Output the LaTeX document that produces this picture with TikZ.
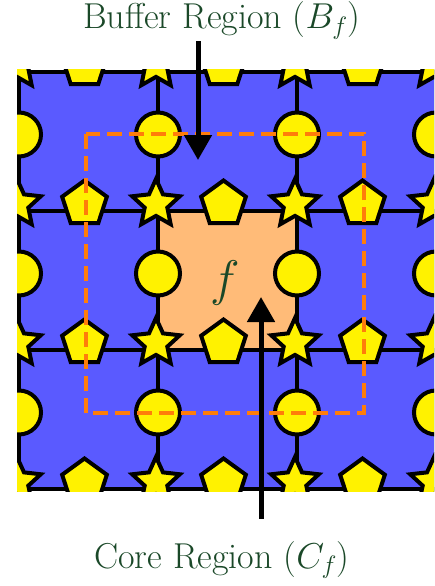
\RequirePackage{fix-cm}
\documentclass[tikz,border=0pt]{standalone}
\usetikzlibrary{arrows.meta,shapes.geometric}

\definecolor{faceblue}{RGB}{90,90,255}
\definecolor{coreorange}{RGB}{255,187,120}
\definecolor{dashorange}{RGB}{255,125,10}
\definecolor{labelgreen}{RGB}{26,72,40}

\tikzset{
  gridline/.style={line width=3.5pt},
  sym/.style={draw, fill=yellow, line width=4pt, inner sep=0pt, outer sep=0pt},
  circ/.style={sym, circle, minimum size=44pt},
  pent/.style={sym, regular polygon, regular polygon sides=5, minimum size=47pt},
  starsym/.style={sym, star, star points=5, star point ratio=2.1, minimum size=50pt},
  buffer/.style={draw=dashorange, line width=4pt, dash pattern=on 15pt off 7pt},
  ptr/.style={line width=5pt, -{Triangle[length=25pt,width=27pt]}},
  lbl/.style={text=labelgreen, inner sep=2pt, font=\fontsize{36}{42}\selectfont},
}

\begin{document}
\begin{tikzpicture}[x=1pt, y=-1pt]
\useasboundingbox (0,0) rectangle (434,586);

% lattice, clipped
\begin{scope}
\clip (17,70) rectangle (434,491);
\fill[faceblue] (17,70) rectangle (434,491);
\fill[coreorange] (158,211) rectangle (297,350);
\foreach \gx in {19,158,297,436}
  \draw[gridline] (\gx,60) -- (\gx,500);
\foreach \gy in {72,211,350,489}
  \draw[gridline] (10,\gy) -- (440,\gy);

% symbols
\foreach \gy [count=\j] in {72,211,350,489} {
  \foreach \gx [count=\i] in {19,158,297,436} {
    \node[starsym] (st-\i-\j) at (\gx-2,\gy-7) {};
    \node[pent] (pe-\i-\j) at (\gx+65.5,\gy-7) {};
  }
}
\foreach \gy [count=\j] in {72,211,350} {
  \foreach \gx [count=\i] in {19,158,297,436}
    \node[circ] (ci-\i-\j) at (\gx,\gy+62.5) {};
}
\end{scope}

\draw[buffer] (86,134) rectangle (364,413);

\node[text=labelgreen, font=\fontsize{50}{56}\selectfont] (face) at (225,283) {$f$};

\node[lbl, anchor=base] (buf) at (222,29) {Buffer Region ($B_f$)};
\node[lbl, anchor=base] (core) at (222,568) {Core Region ($C_f$)};

\coordinate (bufTip) at (198,160);
\coordinate (coreTip) at (261,297);
\draw[ptr] (bufTip |- buf.south) -- (bufTip);
\draw[ptr] ([yshift=20pt]coreTip |- core.north) -- (coreTip);
\end{tikzpicture}
\end{document}
